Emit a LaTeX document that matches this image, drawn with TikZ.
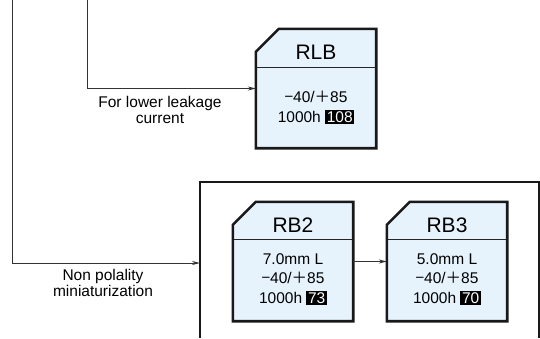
\documentclass[tikz,border=0pt]{standalone}
\usepackage{fontspec}
\setmainfont{Liberation Sans}
\newfontfamily\cjk{Noto Sans CJK JP}
\usetikzlibrary{arrows.meta}
\definecolor{cardfill}{HTML}{E6F3FC}
\newcommand{\hlnum}[1]{{\setlength{\fboxsep}{1.6pt}\colorbox{black}{\textcolor{white}{#1}}}}
\newcommand{\tempr}{{\cjk −}40/{\cjk ＋}85}
\begin{document}
\begin{tikzpicture}[x=1pt,y=-1pt,
  card/.style={minimum width=120pt, minimum height=119pt, inner sep=0pt},
  cardline/.style={line width=2.6pt, line join=miter, draw=black!90, fill=cardfill},
  divline/.style={line width=1pt, draw=black!85},
  title/.style={font=\fontsize{21}{23}\selectfont, inner sep=0pt},
  body/.style={font=\fontsize{15.5}{17}\selectfont, inner sep=0pt},
  lbl/.style={font=\fontsize{15.5}{16.5}\selectfont, align=center, inner sep=0pt},
  conn/.style={line width=0.8pt, draw=black!80, -{Stealth[length=8pt,width=4pt]}},
  framel/.style={line width=1.4pt, draw=black!90}]
\useasboundingbox (0,0) rectangle (540,338);

% group frame
\draw[framel] (200,338) -- (200,182) -- (539,182) -- (539,338);
\coordinate (grpL) at (200,263);

% cards
\node[card] (rlb) at (316,88.5) {};
\node[card] (rb2) at (293,261.5) {};
\node[card] (rb3) at (447,261.5) {};

\foreach \c/\d in {rlb/39, rb2/38, rb3/38}{
  \draw[cardline] ([yshift=-23pt]\c.north west) -- ([xshift=23pt]\c.north west)
     -- (\c.north east) -- (\c.south east) -- (\c.south west) -- cycle;
  \draw[divline] ([yshift=-\d pt, xshift=1pt]\c.north west) -- ([yshift=-\d pt, xshift=-1pt]\c.north east);
}

% texts
\node[title] (rlbT) at ([yshift=-23pt]rlb.north) {RLB};
\node[body] (rlb1) at ([yshift=-68pt]rlb.north) {\tempr};
\node[body] (rlb2) at ([yshift=-88pt]rlb.north) {1000h \hlnum{108}};

\node[title] (rb2T) at ([yshift=-23pt]rb2.north) {RB2};
\node[body] (rb21) at ([yshift=-57pt]rb2.north) {7.0mm L};
\node[body] (rb22) at ([yshift=-76pt]rb2.north) {\tempr};
\node[body] (rb23) at ([yshift=-96pt]rb2.north) {1000h \hlnum{73}};

\node[title] (rb3T) at ([yshift=-23pt]rb3.north) {RB3};
\node[body] (rb31) at ([yshift=-57pt]rb3.north) {5.0mm L};
\node[body] (rb32) at ([yshift=-76pt]rb3.north) {\tempr};
\node[body] (rb33) at ([yshift=-96pt]rb3.north) {1000h \hlnum{70}};

% connectors
\coordinate (src1) at (12,0);
\coordinate (src2) at (87,0);
\draw[conn] (src1) |- (grpL);
\draw[conn] (src2) |- (rlb.west);
\draw[conn] (rb2.east) -- (rb3.west);

% labels
\node[lbl] (l1) at (160,110) {For lower leakage\\current};
\node[lbl] (l2) at (103,283) {Non polality\\miniaturization};
\end{tikzpicture}
\end{document}
